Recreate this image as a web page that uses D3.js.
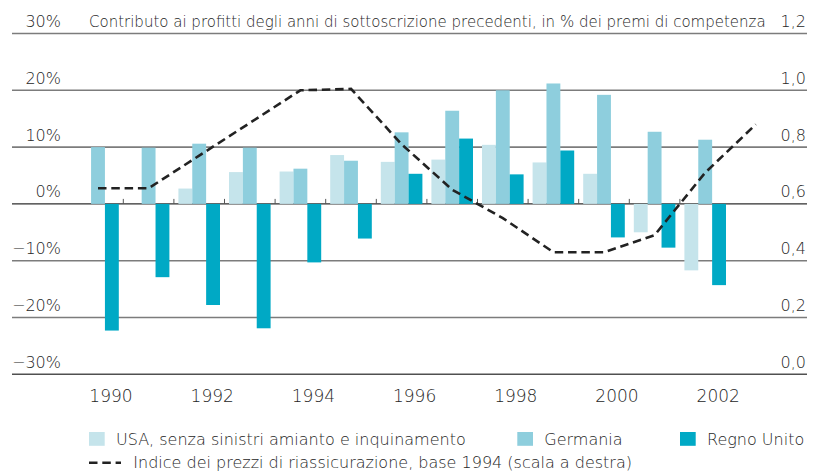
<!DOCTYPE html>
<meta charset="utf-8">
<script src="https://d3js.org/d3.v7.min.js"></script>
<style>
  body { margin: 0; background: #fff; }
  text { font-family: "DejaVu Sans", sans-serif; font-weight: 300; fill: #262626; }
</style>
<div id="chart"></div>
<script>

  // data
  var years = [1990, 1991, 1992, 1993, 1994, 1995, 1996, 1997, 1998, 1999, 2000, 2001, 2002];
  var usa     = [null, null, 2.7, 5.6, 5.7, 8.6, 7.4, 7.8, 10.4, 7.3, 5.3, -5.0, -11.7];
  var germany = [10.0, 9.9, 10.6, 9.9, 6.2, 7.6, 12.6, 16.4, 20.0, 21.2, 19.2, 12.7, 11.3];
  var uk      = [-22.3, -12.9, -17.8, -21.9, -10.3, -6.1, 5.3, 11.5, 5.2, 9.4, -5.9, -7.7, -14.3];

  var indexYears = [1990, 1991, 1992, 1993, 1994, 1995, 1996, 1997, 1998, 1999, 2000, 2001, 2002, 2003];
  var priceIndex = [0.655, 0.655, 0.77, 0.885, 1.0, 1.005, 0.81, 0.65, 0.55, 0.43, 0.43, 0.49, 0.71, 0.88];

  var leftTicks = [-30, -20, -10, 0, 10, 20, 30];
  var rightTicks = [0, 0.2, 0.4, 0.6, 0.8, 1.0, 1.2];
  var yearLabels = [1990, 1992, 1994, 1996, 1998, 2000, 2002];

  var seriesNames = ["USA, senza sinistri amianto e inquinamento", "Germania", "Regno Unito"];
  var seriesKeys = ["usa", "germany", "uk"];
  var colors = ["#c5e4eb", "#8ecedd", "#00a9c5"];

  var W = 820, H = 475;
  var gridLeft = 12, gridRight = 807;

  var svg = d3.select("#chart")
    .append("svg")
      .attr("width", W)
      .attr("height", H);

  var x = d3.scaleBand()
    .domain(indexYears)
    .range([72.7, 72.7 + 50.6 * indexYears.length]);

  var xSub = d3.scaleBand()
    .domain(seriesKeys)
    .range([4.5, x.bandwidth() - 4.5]);

  var y = d3.scaleLinear()
    .domain([-30, 30])
    .range([374.3, 33.5]);

  var yR = d3.scaleLinear()
    .domain([0, 1.2])
    .range([374.3, 33.5]);

  // grid lines
  svg.append("g")
    .selectAll("line")
    .data(leftTicks)
    .enter()
    .append("line")
      .attr("x1", gridLeft)
      .attr("x2", gridRight)
      .attr("y1", function(d) { return y(d); })
      .attr("y2", function(d) { return y(d); })
      .attr("stroke", function(d) { return d == 0 ? "#2e2e2e" : (d == -30 ? "#505050" : "#7c7c7c"); })
      .attr("stroke-width", function(d) { return d == 0 ? 1.2 : 1.6; });

  // small ticks between years on the zero line
  svg.append("g")
    .selectAll("line")
    .data(years.slice(0, -1))
    .enter()
    .append("line")
      .attr("x1", function(d) { return x(d) + x.bandwidth(); })
      .attr("x2", function(d) { return x(d) + x.bandwidth(); })
      .attr("y1", y(0))
      .attr("y2", y(0) - 5)
      .attr("stroke", "#555")
      .attr("stroke-width", 1);

  // bars
  var rows = years.map(function(yr, i) {
    return { year: yr, usa: usa[i], germany: germany[i], uk: uk[i] };
  });

  seriesKeys.forEach(function(key, k) {
    svg.append("g")
      .selectAll("rect")
      .data(rows.filter(function(d) { return d[key] != null; }))
      .enter()
      .append("rect")
        .attr("x", function(d) { return x(d.year) + xSub(key); })
        .attr("width", xSub.bandwidth())
        .attr("y", function(d) { return y(Math.max(0, d[key])); })
        .attr("height", function(d) { return Math.abs(y(d[key]) - y(0)); })
        .attr("fill", colors[k]);
  });

  // price index line (right scale)
  var line = d3.line()
    .x(function(d, i) { return x(indexYears[i]) + x.bandwidth() / 2; })
    .y(function(d) { return yR(d); });

  svg.append("path")
    .datum(priceIndex)
    .attr("d", line)
    .attr("fill", "none")
    .attr("stroke", "#222")
    .attr("stroke-width", 2.6)
    .attr("stroke-dasharray", "8.5,4.8");

  // left labels
  svg.append("g")
    .selectAll("text")
    .data(leftTicks)
    .enter()
    .append("text")
      .attr("x", 61)
      .attr("y", function(d) { return y(d) - 6.5; })
      .attr("text-anchor", "end")
      .attr("font-size", "16px")
      .text(function(d) { return (d < 0 ? "\u2212" + Math.abs(d) : d) + "%"; });

  // right labels
  svg.append("g")
    .selectAll("text")
    .data(rightTicks)
    .enter()
    .append("text")
      .attr("x", 806)
      .attr("y", function(d) { return yR(d) - 6.5; })
      .attr("text-anchor", "end")
      .attr("font-size", "16px")
      .text(function(d) { return d3.format(".1f")(d).replace(".", ","); });

  // title
  svg.append("text")
    .attr("x", 89)
    .attr("y", y(30) - 6.5)
    .attr("font-size", "15px")
    .text("Contributo ai profitti degli anni di sottoscrizione precedenti, in % dei premi di competenza");

  // year labels
  svg.append("g")
    .selectAll("text")
    .data(yearLabels)
    .enter()
    .append("text")
      .attr("x", function(d) { return x(d) + x.bandwidth() / 2 + 13; })
      .attr("y", 401.5)
      .attr("text-anchor", "middle")
      .attr("font-size", "17px")
      .text(function(d) { return d; });

  // legend
  var legendX = [89, 517.3, 680];
  var legend = svg.append("g");
  seriesNames.forEach(function(name, k) {
    legend.append("rect")
      .attr("x", legendX[k])
      .attr("y", 432)
      .attr("width", 15.7)
      .attr("height", 13.8)
      .attr("fill", colors[k]);
    legend.append("text")
      .attr("x", legendX[k] + 27)
      .attr("y", 444.5)
      .attr("font-size", "16px")
      .text(name);
  });

  legend.append("line")
    .attr("x1", 89)
    .attr("x2", 121)
    .attr("y1", 462.7)
    .attr("y2", 462.7)
    .attr("stroke", "#222")
    .attr("stroke-width", 2.6)
    .attr("stroke-dasharray", "8.5,4.8");

  legend.append("text")
    .attr("x", 133.3)
    .attr("y", 468)
    .attr("font-size", "16px")
    .text("Indice dei prezzi di riassicurazione, base 1994 (scala a destra)");

</script>
